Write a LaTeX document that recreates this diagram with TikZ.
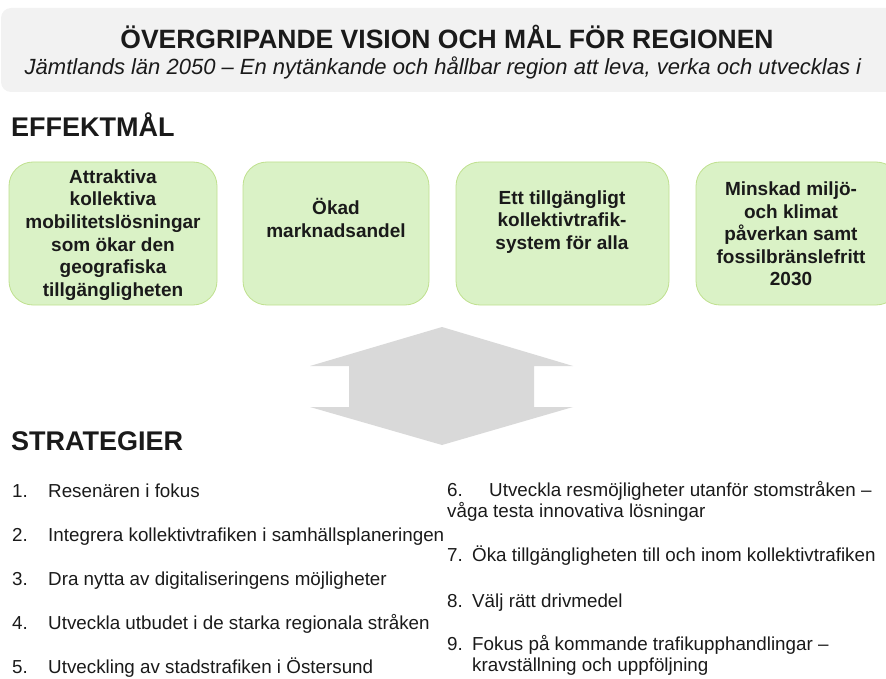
\documentclass[tikz,border=0pt]{standalone}
\usepackage{fontspec}
\setmainfont{Liberation Sans}
\usetikzlibrary{positioning}

\definecolor{bandgray}{HTML}{F2F2F2}
\definecolor{goalfill}{HTML}{DAF2C6}
\definecolor{goalline}{HTML}{BFE08E}
\definecolor{arrowgray}{HTML}{D9D9D9}
\definecolor{inkgray}{HTML}{1A1A1A}

\begin{document}
\begin{tikzpicture}[x=1pt, y=-1pt,
    goal/.style={draw=goalline, fill=goalfill, line width=0.8pt, rounded corners=24pt},
    goaltext/.style={align=center, inner sep=0pt, text=inkgray,
        font=\fontsize{19}{22.6}\selectfont\bfseries},
    heading/.style={anchor=base west, inner sep=0pt, text=inkgray,
        font=\fontsize{27}{32}\selectfont\bfseries},
    item/.style={anchor=base west, inner sep=0pt, text=inkgray,
        font=\fontsize{18.8}{21}\selectfont}]
    \useasboundingbox (0, 0) rectangle (886, 679);

    % vision band
    \fill[bandgray, rounded corners=10pt] (1, 8) rectangle (900, 92);
    \node[anchor=base, inner sep=0pt, text=inkgray, font=\fontsize{26.5}{30}\selectfont\bfseries]
        (title) at (447, 49) {ÖVERGRIPANDE VISION OCH MÅL FÖR REGIONEN};
    \node[anchor=base, inner sep=0pt, text=inkgray, font=\fontsize{22}{24}\selectfont\itshape]
        (vision) at (443, 75) {Jämtlands län 2050 – En nytänkande och hållbar region att leva, verka och utvecklas i};

    % effektmal
    \node[heading] (effekt) at (11, 137) {EFFEKTMÅL};

    \draw[goal] (9, 162) rectangle (217, 305);
    \draw[goal] (243, 162) rectangle (429, 305);
    \draw[goal] (456, 162) rectangle (669, 305);
    \draw[goal] (696, 162) rectangle (900, 305);

    \node[goaltext] (g1) at (113, 235) {Attraktiva\\kollektiva\\mobilitetslösningar\\som ökar den\\geografiska\\tillgängligheten};
    \node[goaltext] (g2) at (336, 218) {Ökad\\marknadsandel};
    \node[goaltext] (g3) at (562, 222) {Ett tillgängligt\\kollektivtrafik-\\system för alla};
    \node[goaltext] (g4) at (791, 234) {Minskad miljö-\\och klimat\\påverkan samt\\fossilbränslefritt\\2030};

    % double arrow
    \fill[arrowgray] (442, 327) -- (573, 366) -- (534, 366) -- (534, 407) -- (573, 407)
        -- (442, 445) -- (310, 407) -- (349, 407) -- (349, 366) -- (310, 366) -- cycle;

    % strategier
    \node[heading] (strat) at (11, 450) {STRATEGIER};

    \foreach \n/\y/\txt in {1/497/Resenären i fokus,
                            2/541/Integrera kollektivtrafiken i samhällsplaneringen,
                            3/585/Dra nytta av digitaliseringens möjligheter,
                            4/629/Utveckla utbudet i de starka regionala stråken,
                            5/673/Utveckling av stadstrafiken i Östersund}{
        \node[item] (n\n) at (12, \y) {\n.};
        \node[item] (s\n) at (48, \y) {\txt};
    }

    \node[item] (n6) at (447, 496) {6.};
    \node[item] (s6) at (489, 496) {Utveckla resmöjligheter utanför stomstråken –};
    \node[item] (s6b) at (447, 517) {våga testa innovativa lösningar};
    \foreach \n/\y/\txt in {7/561/Öka tillgängligheten till och inom kollektivtrafiken,
                            8/607/Välj rätt drivmedel,
                            9/650/Fokus på kommande trafikupphandlingar –}{
        \node[item] (n\n) at (447, \y) {\n.};
        \node[item] (s\n) at (472, \y) {\txt};
    }
    \node[item] (s9b) at (472, 671) {kravställning och uppföljning};
\end{tikzpicture}
\end{document}
